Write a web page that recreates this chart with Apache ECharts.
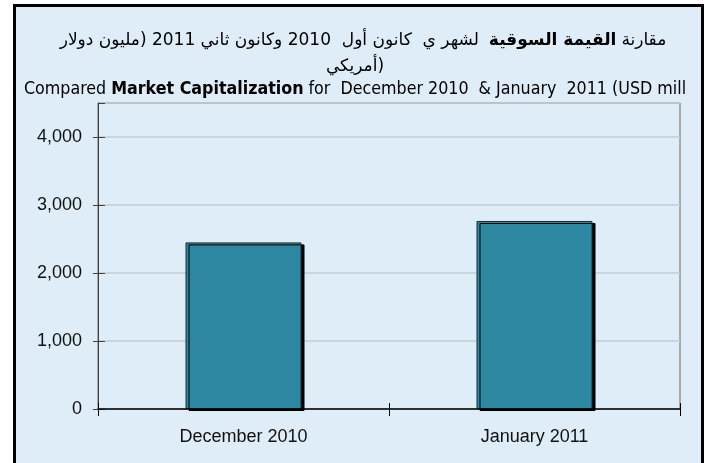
<!DOCTYPE html>
<html>
<head>
<meta charset="utf-8">
<script src="https://cdn.jsdelivr.net/npm/echarts@6/dist/echarts.min.js"></script>
<style>
html,body{margin:0;padding:0;background:#ffffff;}
#chart{width:710px;height:463px;}
</style>
</head>
<body>
<div id="chart"></div>
<script>
// ---- data ----
const categories = ['December 2010', 'January 2011'];
const marketCap = [2450, 2765];
const yTickValues = [0, 1000, 2000, 3000, 4000];
const titleArabicPlain = 'لشهر ي  كانون أول  2010 وكانون ثاني 2011 (مليون دولار';
const titleArabicBold = 'القيمة السوقية';
const titleArabicFirst = 'مقارنة';
const titleArabicLine2 = 'أمريكي)';
const titleEnPre = 'Compared';
const titleEnBold = 'Market Capitalization';
const titleEnPost = 'for  December 2010  & January  2011 (USD mill';

const BG = '#deedf7';
const BAR = '#2e87a0';
const EN_FONT = '"DejaVu Sans Condensed", "DejaVu Sans", Tahoma, sans-serif';
const AR_FONT = '"DejaVu Sans", Tahoma, sans-serif';
const AX_FONT = '"Liberation Sans", Arial, sans-serif';
const LRI = '\u2066', PDI = '\u2069';
const ltr = s => LRI + s + PDI;

const chart = echarts.init(document.getElementById('chart'), null, {renderer: 'canvas'});
const yMin = yTickValues[0];
const yInterval = yTickValues[1] - yTickValues[0];
const yMax = 4500;

const arN = {fontFamily: AR_FONT, fontSize: 17, color: '#000', fontWeight: 'normal'};
const arB = {fontFamily: AR_FONT, fontSize: 17, color: '#000', fontWeight: 'bold'};
const enN = {fontFamily: EN_FONT, fontSize: 17.7, color: '#000', fontWeight: 'normal'};
const enB = {fontFamily: EN_FONT, fontSize: 17.7, color: '#000', fontWeight: 'bold'};

chart.setOption({
  backgroundColor: '#ffffff',
  animation: false,
  graphic: [{
    type: 'rect',
    z: -10,
    shape: {x: 14.5, y: 5.5, width: 688, height: 520},
    style: {fill: BG, stroke: '#000', lineWidth: 3}
  }],
  title: [
    {
      text: '{n|' + ltr(titleArabicPlain) + '}  {b|' + ltr(titleArabicBold) + '} {n|' + ltr(titleArabicFirst) + '}',
      left: 363, top: 32, textAlign: 'center',
      textStyle: {rich: {n: arN, b: arB}},
      padding: 0
    },
    {
      text: '{n|' + ltr(titleArabicLine2) + '}',
      left: 355, top: 58, textAlign: 'center',
      textStyle: {rich: {n: arN}},
      padding: 0
    },
    {
      text: '{n|' + titleEnPre + '} {b|' + titleEnBold + '} {n|' + titleEnPost + '}',
      left: 355, top: 80, textAlign: 'center',
      textStyle: {rich: {n: enN, b: enB}},
      padding: 0
    }
  ],
  grid: {
    left: 98, right: 30, top: 103, bottom: 54,
    show: true, borderColor: '#6a6a6a', borderWidth: 1, backgroundColor: 'transparent'
  },
  xAxis: [{
    type: 'category',
    data: categories,
    boundaryGap: true,
    axisLine: {show: true, lineStyle: {color: '#000', width: 1.5}},
    axisTick: {show: true, length: 7, lineStyle: {color: '#000'}},
    axisLabel: {fontFamily: AX_FONT, fontSize: 18, color: '#111', margin: 19},
    splitLine: {show: false},
    z: 5
  }, {
    type: 'category',
    data: categories,
    position: 'bottom',
    boundaryGap: true,
    axisLine: {show: false},
    axisTick: {show: true, inside: true, length: 6, lineStyle: {color: '#000'}},
    axisLabel: {show: false},
    splitLine: {show: false}
  }],
  yAxis: [{
    type: 'value',
    min: yMin, max: yMax, interval: yInterval,
    axisLine: {show: true, lineStyle: {color: '#404040', width: 1}},
    axisTick: {show: true, length: 5, lineStyle: {color: '#404040'}},
    axisLabel: {
      fontFamily: AX_FONT, fontSize: 18, color: '#111', margin: 16,
      showMaxLabel: false,
      formatter: v => yTickValues.indexOf(v) >= 0 ? v.toLocaleString('en-US') : ''
    },
    splitLine: {show: true, lineStyle: {color: '#c4cdd2', width: 1.5}}
  }, {
    type: 'value',
    position: 'left',
    min: yMin, max: yMax, interval: yInterval,
    axisLine: {show: false},
    axisTick: {show: true, inside: true, length: 7, lineStyle: {color: '#404040'}},
    axisLabel: {show: false},
    splitLine: {show: false}
  }],
  series: [{
    type: 'bar',
    data: marketCap,
    barWidth: 116,
    itemStyle: {
      color: BAR,
      borderColor: '#1b2f36',
      borderWidth: 1,
      shadowColor: '#000',
      shadowOffsetX: 3,
      shadowOffsetY: 2,
      shadowBlur: 0
    },
    z: 3
  }]
});
</script>
</body>
</html>
